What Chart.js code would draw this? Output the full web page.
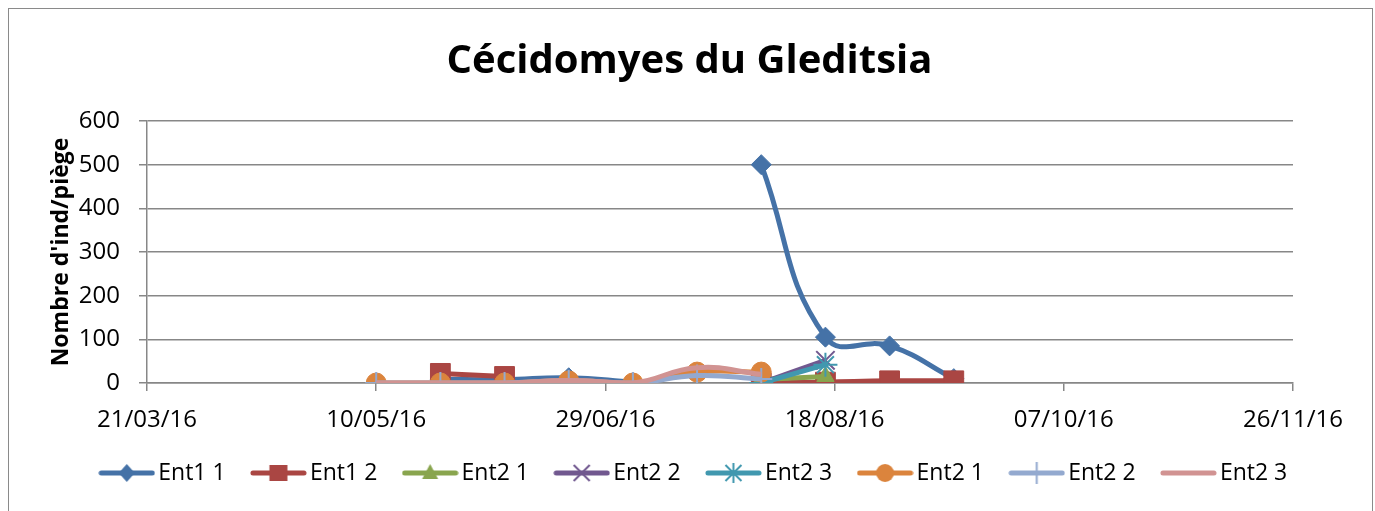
<!DOCTYPE html>
<html>
<head>
<meta charset="utf-8">
<script src="https://cdn.jsdelivr.net/npm/chart.js@4"></script>
<style>
  html, body { margin: 0; padding: 0; background: #fff; }
  #wrap { position: relative; width: 1375px; height: 511px; overflow: hidden; }
  #frame { position: absolute; left: 8px; top: 8px; width: 1363px; height: 600px; border: 1.5px solid #8a8a8a; pointer-events: none; }
</style>
</head>
<body>
<div id="wrap">
  <canvas id="chart" width="1375" height="511"></canvas>
  <div id="frame"></div>
</div>
<script>
// Sampling dates (dd/mm/yy)
const dates = ['10/05/16', '24/05/16', '07/06/16', '21/06/16', '05/07/16', '19/07/16', '02/08/16', '16/08/16', '30/08/16', '13/09/16'];

// Series values, null = no sample
const ent1_1 = [null, 8, 8, 12, 2, null, 500, 105, 85, 10];
const ent1_2 = [null, 22, 15, null, null, null, 0, 2, 5, 5];
const ent2_1 = [null, null, null, null, null, null, 8, 15, null, null];
const ent2_2 = [null, null, null, null, null, null, 0, 52, null, null];
const ent2_3 = [null, null, null, null, null, null, 0, 42, null, null];
const ent2_1b = [0, 0, 0, 5, 0, 25, 25, null, null, null];
const ent2_2b = [0, 0, 0, 5, 0, 17, 9, null, null, null];
const ent2_3b = [0, 0, 0, 6, 0, 35, 20, null, null, null];

const seriesNames = ['Ent1 1', 'Ent1 2', 'Ent2 1', 'Ent2 2', 'Ent2 3', 'Ent2 1', 'Ent2 2', 'Ent2 3'];

// Axis ticks
const xStart = '21/03/16';
const xTickStep = 50; // days
const xTickCount = 5;
const yMax = 600;
const yStep = 100;

const FONT = '"Open Sans", "Liberation Sans", sans-serif';
const GRID = '#878787';

const DAY = 86400000;
function parseDate(s) {
  const [d, m, y] = s.split('/').map(Number);
  return Date.UTC(2000 + y, m - 1, d);
}
const base = parseDate(xStart);
function dayOf(s) { return Math.round((parseDate(s) - base) / DAY); }
function fmtDay(v) {
  const d = new Date(base + v * DAY);
  const p = n => String(n).padStart(2, '0');
  return p(d.getUTCDate()) + '/' + p(d.getUTCMonth() + 1) + '/' + String(d.getUTCFullYear()).slice(2);
}

const styles = [
  { values: ent1_1, color: '#4572A7', point: 'rectRot', radius: 10, bw: 1 },
  { values: ent1_2, color: '#AA4643', point: 'rect', radius: 14, bw: 1 },
  { values: ent2_1, color: '#89A54E', point: 'triangle', radius: 10, bw: 1 },
  { values: ent2_2, color: '#71588F', point: 'crossRot', radius: 13, bw: 2 },
  { values: ent2_3, color: '#4198AF', point: 'star', radius: 12, bw: 2 },
  { values: ent2_1b, color: '#DB843D', point: 'circle', radius: 10, bw: 1 },
  { values: ent2_2b, color: '#93A9CF', point: 'cross', radius: 11, bw: 2 },
  { values: ent2_3b, color: '#D19392', point: false, radius: 0, bw: 0 }
];

// legend sample: line with the marker in the middle
function makeIcon(color, style) {
  const c = document.createElement('canvas');
  c.width = 57; c.height = 24;
  const g = c.getContext('2d');
  g.strokeStyle = color; g.fillStyle = color;
  g.lineWidth = 5; g.lineCap = 'round';
  g.beginPath(); g.moveTo(3, 12); g.lineTo(54, 12); g.stroke();
  const x = 28.5, y = 12;
  g.lineCap = 'butt'; g.lineWidth = 2;
  g.beginPath();
  if (style === 'rectRot') {
    g.moveTo(x, y - 9); g.lineTo(x + 8, y); g.lineTo(x, y + 9); g.lineTo(x - 8, y); g.closePath(); g.fill();
  } else if (style === 'rect') {
    g.fillRect(x - 9, y - 8, 18, 16);
  } else if (style === 'triangle') {
    g.moveTo(x, y - 9); g.lineTo(x + 8, y + 6); g.lineTo(x - 8, y + 6); g.closePath(); g.fill();
  } else if (style === 'crossRot') {
    g.moveTo(x - 8, y - 8); g.lineTo(x + 8, y + 8); g.moveTo(x + 8, y - 8); g.lineTo(x - 8, y + 8); g.stroke();
  } else if (style === 'star') {
    g.moveTo(x - 8, y - 8); g.lineTo(x + 8, y + 8); g.moveTo(x + 8, y - 8); g.lineTo(x - 8, y + 8);
    g.moveTo(x, y - 10); g.lineTo(x, y + 10); g.stroke();
  } else if (style === 'circle') {
    g.arc(x, y, 9, 0, Math.PI * 2); g.fill();
  } else if (style === 'cross') {
    g.moveTo(x, y - 11); g.lineTo(x, y + 11); g.stroke();
  }
  return c;
}
const icons = styles.map(s => makeIcon(s.color, s.point));

const datasets = styles.map((s, i) => ({
  label: seriesNames[i],
  data: dates.map((d, j) => ({ x: dayOf(d), y: s.values[j] })),
  borderColor: s.color,
  backgroundColor: s.color,
  borderWidth: 5,
  tension: 0.45,
  pointStyle: s.point,
  pointRadius: s.radius,
  pointBorderWidth: s.bw,
  pointBackgroundColor: s.color,
  pointBorderColor: s.color,
  order: styles.length - i // later series on top, like the original
}));

// title and legend are centred on the whole frame in the original, not on the plot
const boxShift = {
  id: 'boxShift',
  afterLayout(chart) {
    chart.legend.left += 50.5;
    chart.legend.right += 50.5;
    chart.titleBlock.left += 43;
    chart.titleBlock.right += 43;
  }
};

new Chart(document.getElementById('chart'), {
  type: 'line',
  data: { datasets },
  plugins: [boxShift],
  options: {
    responsive: false,
    animation: false,
    events: [],
    layout: { padding: { left: 0, right: 82, top: 8, bottom: 16.5 } },
    plugins: {
      title: {
        display: true,
        text: 'Cécidomyes du Gleditsia',
        color: '#000',
        font: { family: FONT, size: 40, weight: 'bold' },
        padding: { top: 30, bottom: 35 }
      },
      legend: {
        position: 'bottom',
        labels: {
          usePointStyle: true,
          pointStyleWidth: 40,
          padding: 32.8,
          color: '#000',
          font: { family: FONT, size: 23 },
          sort: (a, b) => a.datasetIndex - b.datasetIndex,
          generateLabels(chart) {
            const items = Chart.defaults.plugins.legend.labels.generateLabels(chart);
            items.forEach(it => { it.pointStyle = icons[it.datasetIndex]; });
            return items;
          }
        }
      },
      tooltip: { enabled: false }
    },
    scales: {
      x: {
        type: 'linear',
        min: 0,
        max: xTickStep * xTickCount,
        afterFit(scale) { scale.height = 45.7; },
        ticks: {
          stepSize: xTickStep,
          autoSkip: false,
          maxRotation: 0,
          padding: 15,
          color: '#000',
          font: { family: FONT, size: 24 },
          callback: v => fmtDay(v)
        },
        grid: { drawOnChartArea: false, drawTicks: true, tickLength: 8, color: GRID, lineWidth: 1.5 },
        border: { color: GRID, width: 1.5 }
      },
      y: {
        min: 0,
        max: yMax,
        afterFit(scale) { scale.width = 147; },
        ticks: {
          stepSize: yStep,
          padding: 19,
          color: '#000',
          font: { family: FONT, size: 24 }
        },
        title: {
          display: true,
          text: "Nombre d'ind/piège",
          color: '#000',
          font: { family: FONT, size: 23, weight: 'bold' },
          padding: { top: 48, bottom: 0 }
        },
        grid: { color: GRID, lineWidth: 1.5, tickLength: 8 },
        border: { color: GRID, width: 1.5 }
      }
    }
  }
});
</script>
</body>
</html>
